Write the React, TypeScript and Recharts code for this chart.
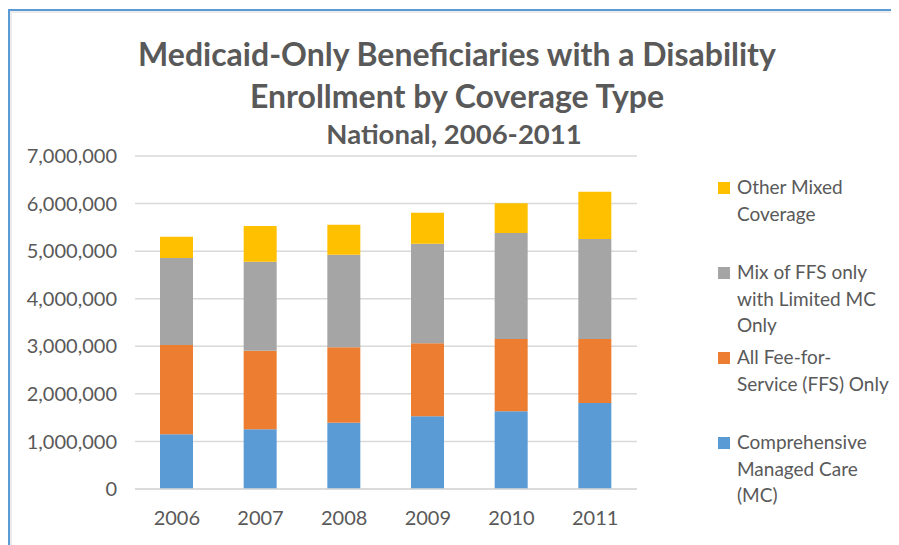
import { BarChart, Bar, XAxis, YAxis, CartesianGrid } from 'recharts';

const years = ['2006', '2007', '2008', '2009', '2010', '2011'];
const comprehensiveMC = [1149000, 1254000, 1395000, 1528000, 1633000, 1808000];
const allFFS = [1878000, 1654000, 1583000, 1534000, 1520000, 1345000];
const mixFFSLimitedMC = [1829000, 1871000, 1948000, 2096000, 2229000, 2103000];
const otherMixed = [449000, 750000, 631000, 651000, 624000, 995000];
const yTicks = [0, 1000000, 2000000, 3000000, 4000000, 5000000, 6000000, 7000000];

const series = [
  { key: 'mc', name: 'Comprehensive Managed Care (MC)', lines: ['Comprehensive', 'Managed Care', '(MC)'], color: '#5B9BD5', values: comprehensiveMC },
  { key: 'ffs', name: 'All Fee-for-Service (FFS) Only', lines: ['All Fee-for-', 'Service (FFS) Only'], color: '#ED7D31', values: allFFS },
  { key: 'mix', name: 'Mix of FFS only with Limited MC Only', lines: ['Mix of FFS only', 'with Limited MC', 'Only'], color: '#A5A5A5', values: mixFFSLimitedMC },
  { key: 'other', name: 'Other Mixed Coverage', lines: ['Other Mixed', 'Coverage'], color: '#FFC000', values: otherMixed },
];

const data = years.map((year, i) => {
  const row: Record<string, string | number> = { year };
  series.forEach(s => { row[s.key] = s.values[i]; });
  return row;
});

const FONT = 'Lato, "Open Sans", sans-serif';
const TEXT = '#595959';

function LegendBox() {
  // legend reads top to bottom in reverse stack order
  const items = [...series].reverse();
  return (
    <div style={{ position: 'absolute', left: 710, top: 166, fontFamily: FONT, color: TEXT, fontSize: 19, whiteSpace: 'nowrap' }}>
      {items.map(s => (
        <div key={s.key} style={{ display: 'flex', height: 85 }}>
          <div style={{ width: 12, height: 12, background: s.color, marginTop: 8, marginRight: 7 }} />
          <div style={{ lineHeight: '26.5px' }}>
            {s.lines.map(l => <div key={l}>{l}</div>)}
          </div>
        </div>
      ))}
    </div>
  );
}

export default function App() {
  return (
    <div style={{ position: 'relative', width: 891, height: 537, background: '#fff', fontFamily: FONT, overflow: 'hidden' }}>
      <div style={{ position: 'absolute', left: 0, top: 1, width: 891, height: 2, background: '#5B9BD5' }} />
      <div style={{ position: 'absolute', left: 0, top: 1, width: 2, height: 536, background: '#5B9BD5' }} />
      <div style={{ position: 'absolute', left: 2, top: 3, width: 889, height: 2, background: '#ececec' }} />
      <div style={{ position: 'absolute', left: 2, top: 3, width: 2, height: 534, background: '#ececec' }} />
      <div style={{ position: 'absolute', left: 0, top: 25, width: 898, textAlign: 'center', color: TEXT, fontWeight: 700, fontSize: 32, lineHeight: '42px' }}>
        <div>Medicaid-Only Beneficiaries with a Disability</div>
        <div>Enrollment by Coverage Type</div>
      </div>
      <div style={{ position: 'absolute', left: 0, top: 111, width: 892, textAlign: 'center', color: TEXT, fontWeight: 700, fontSize: 27.5, lineHeight: '30px' }}>
        National, 2006-2011
      </div>
      <div style={{ position: 'absolute', left: 0, top: 0 }}>
        <BarChart width={891} height={537} data={data} margin={{ top: 148, right: 262, bottom: 26, left: 0 }} barSize={33}>
          <CartesianGrid vertical={false} stroke="#d9d9d9" strokeWidth={1.5} />
          <XAxis
            dataKey="year"
            height={30}
            tickLine={false}
            axisLine={{ stroke: '#d9d9d9', strokeWidth: 1.5 }}
            tickSize={0}
            tickMargin={22}
            tick={{ fill: TEXT, fontSize: 20, fontFamily: FONT }}
          />
          <YAxis
            width={127}
            domain={[0, 7000000]}
            ticks={yTicks}
            interval={0}
            tickLine={false}
            axisLine={false}
            tickSize={0}
            tickMargin={18}
            tickFormatter={(v: number) => v.toLocaleString('en-US')}
            tick={{ fill: TEXT, fontSize: 20, fontFamily: FONT }}
          />
          {series.map(s => (
            <Bar key={s.key} dataKey={s.key} name={s.name} stackId="a" fill={s.color} isAnimationActive={false} />
          ))}
        </BarChart>
      </div>
      <LegendBox />
    </div>
  );
}
